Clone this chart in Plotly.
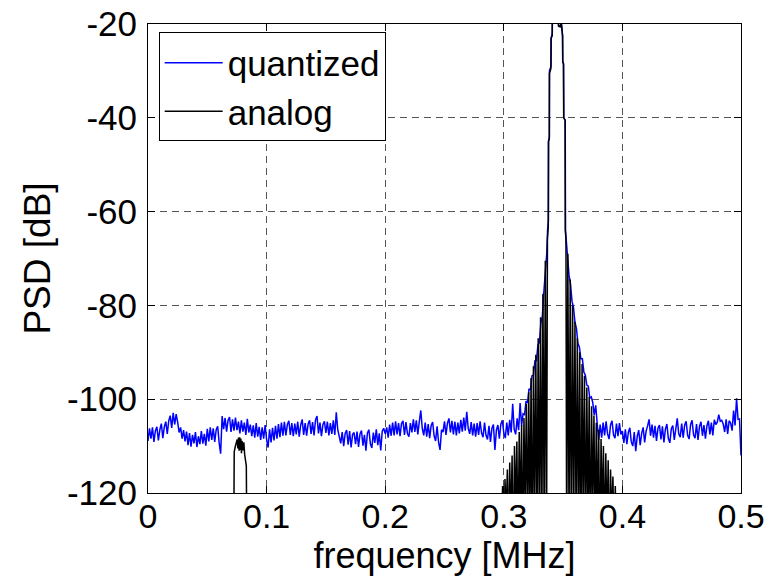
import plotly.graph_objects as go

# ---------------- data ----------------
# frequency grid of the quantized PSD noise floor (MHz)
Q_STEP = 0.00125
Q_LEFT_START = 0.0
Q_RIGHT_START = 0.35375

# quantized PSD [dB], 0 .. 0.335 MHz
quant_left_db = [
    -108.9, -106.2, -108.4, -106.0, -109.1, -106.7, -105.9, -108.8, -106.5, -105.2,
    -108.3, -105.9, -104.8, -107.4, -104.6, -103.5, -106.1, -102.9, -105.4, -103.2,
    -104.9, -107.1, -106.0, -108.4, -106.6, -109.0, -106.9, -109.8, -107.2, -110.1,
    -107.6, -109.4, -107.0, -110.2, -107.9, -109.6, -106.8, -109.5, -107.4, -109.9,
    -106.3, -109.0, -106.0, -108.7, -106.2, -109.1, -106.5, -105.8, -109.3, -111.6,
    -103.6, -106.4, -104.0, -106.9, -104.5, -103.8, -107.0, -104.3, -106.7, -103.9,
    -106.6, -104.8, -107.3, -104.5, -106.9, -105.0, -107.6, -104.2, -107.1, -105.4,
    -107.9, -105.6, -108.2, -105.1, -108.0, -105.9, -108.7, -106.0, -108.4, -105.5,
    -108.6, -110.3, -106.4, -109.2, -106.1, -108.8, -105.7, -108.4, -105.3, -108.1,
    -105.0, -107.8, -104.8, -107.7, -105.4, -104.6, -107.6, -105.1, -107.9, -105.2,
    -107.5, -104.8, -108.0, -105.5, -104.3, -107.6, -105.1, -107.8, -105.3, -104.5,
    -107.4, -104.9, -107.7, -104.4, -103.6, -107.3, -105.0, -107.9, -105.4, -104.7,
    -107.2, -104.8, -107.7, -105.1, -107.4, -104.5, -107.6, -102.8, -106.5, -107.9,
    -109.4, -107.0, -110.0, -107.3, -106.6, -109.7, -106.8, -110.3, -107.5, -107.1,
    -109.6, -106.9, -110.2, -107.4, -106.7, -109.9, -107.6, -111.0, -107.2, -106.5,
    -109.5, -110.4, -107.1, -109.3, -106.4, -109.8, -107.3, -110.9, -106.8, -106.2,
    -107.4, -106.0, -108.2, -105.4, -107.8, -105.0, -107.7, -104.7, -107.5, -105.1,
    -107.9, -105.2, -104.6, -107.6, -104.9, -107.3, -108.0, -105.1, -107.1, -104.3,
    -107.0, -104.5, -107.5, -104.8, -102.4, -106.2, -107.7, -105.0, -108.0, -105.3,
    -108.3, -105.6, -104.9, -107.8, -108.9, -105.8, -109.2, -110.8, -106.5, -107.0,
    -104.7, -107.6, -105.1, -104.1, -107.1, -104.6, -107.5, -104.8, -107.7, -105.0,
    -107.3, -104.4, -106.9, -103.9, -106.7, -102.7, -106.2, -107.4, -104.9, -107.7,
    -105.2, -108.0, -105.1, -107.6, -104.7, -107.2, -108.1, -105.0, -107.7, -108.6,
    -105.7, -109.1, -106.2, -105.4, -110.8, -106.6, -105.5, -108.4, -105.3, -104.5,
    -107.2, -108.3, -105.0, -107.7, -104.4, -107.1, -101.0, -106.4, -107.5, -104.1,
    -106.6, -100.8, -105.6, -103.1, -103.3, -100.4, -100.8, -97.8, -98.1, -95.0,
    -94.9, -91.8, -91.8, -88.5, -87.9, -83.8, -82.3, -77.2, -73.8,
]

# quantized PSD around the carrier (explicit frequencies)
quant_peak_f = [0.3362, 0.3369, 0.3376, 0.3377, 0.3384, 0.3385, 0.3398, 0.3399,
                0.3409, 0.3410, 0.3440, 0.3458, 0.3463, 0.3470, 0.3478, 0.3484,
                0.3488, 0.3489, 0.3496, 0.3497, 0.3504, 0.3506, 0.3518, 0.3520, 0.3528]
quant_peak_db = [-69.0, -64.0, -62.0, -45.0, -44.0, -30.0, -29.0, -23.0,
                 -22.0, -17.0, -16.0, -19.0, -20.6, -20.3, -20.7, -19.5,
                 -20.5, -22.0, -22.5, -28.0, -28.5, -40.0, -40.5, -64.0, -67.0]

# quantized PSD [dB], 0.35375 .. 0.5 MHz
quant_right_db = [
    -70.0, -73.6, -75.4, -79.1, -80.4, -83.6, -84.9, -88.1, -88.9, -91.4,
    -91.4, -94.2, -94.9, -97.0, -97.2, -99.8, -99.5,
    -100.7, -103.4, -101.3, -105.2, -108.7, -105.4, -108.2, -105.0, -107.7, -104.7,
    -107.4, -108.5, -105.5, -104.6, -107.6, -108.3, -105.2, -107.9, -105.1, -107.5,
    -106.8, -109.3, -106.4, -109.6, -107.1, -106.1, -109.1, -110.0, -107.0, -111.1,
    -107.9, -106.6, -109.8, -107.3, -106.0, -109.2, -106.8, -105.7, -104.3, -107.8,
    -105.4, -108.2, -105.7, -108.9, -106.2, -105.5, -108.6, -105.8, -109.2, -106.4,
    -105.3, -108.4, -109.3, -106.3, -105.6, -108.7, -106.0, -104.1, -107.4, -108.1,
    -105.2, -108.2, -105.5, -104.7, -107.7, -108.5, -105.4, -104.5, -107.6, -108.3,
    -105.3, -108.7, -105.8, -104.8, -107.8, -105.5, -108.4, -105.7, -104.6, -107.5,
    -105.0, -107.7, -104.4, -105.4, -104.9, -103.3, -104.7, -104.5, -105.3, -107.0,
    -104.3, -107.4, -104.6, -105.1, -106.7, -102.4, -105.6, -99.8, -104.3, -104.2,
    -112.0,
]

# analog PSD: small tone near 0.078 MHz (explicit frequencies)
analog_tone_f = [0.0722, 0.0725, 0.0727, 0.0735, 0.0745, 0.0752, 0.0758, 0.0763,
                 0.0768, 0.0773, 0.0778, 0.0783, 0.0788, 0.0793, 0.0800, 0.0808,
                 0.0815, 0.0822, 0.0829, 0.0831, 0.0834]
analog_tone_db = [-135.0, -121.0, -111.2, -110.2, -109.3, -108.6, -110.5, -108.2,
                  -111.0, -108.1, -110.8, -108.4, -111.5, -108.9, -110.9, -109.2,
                  -111.8, -113.4, -114.2, -122.0, -135.0]

# analog PSD: lower side-lobes, 0.296 .. 0.336 MHz in 0.001 MHz steps
ANALOG_STEP = 0.001
ANALOG_LEFT_START = 0.296
analog_left_db = [
    -132.0, -120.5, -128.0, -118.5, -136.0, -117.0, -125.0, -115.0, -131.0, -113.5,
    -127.0, -112.0, -138.0, -110.0, -124.0, -109.0, -133.0, -107.0, -126.0, -105.5,
    -135.0, -104.0, -123.0, -101.0, -130.0, -98.5, -127.0, -95.5, -137.0, -93.0,
    -125.0, -90.5, -132.0, -87.0, -128.0, -82.5, -134.0, -77.5, -126.0, -70.5,
    -135.0,
]

# analog PSD: main lobe (explicit frequencies)
analog_peak_f = [0.3368, 0.3375, 0.3377, 0.3384, 0.3385, 0.3397, 0.3399, 0.3408,
                 0.3410, 0.3440, 0.3458, 0.3463, 0.3470, 0.3478, 0.3484, 0.3487,
                 0.3489, 0.3495, 0.3497, 0.3503, 0.3505, 0.3517, 0.3519, 0.3524]
analog_peak_db = [-66.0, -63.0, -45.0, -44.5, -30.5, -29.5, -23.0, -22.5,
                  -17.0, -16.0, -19.0, -20.6, -20.3, -20.7, -19.5, -20.4,
                  -22.0, -22.5, -28.0, -28.5, -40.0, -40.5, -64.0, -66.0]

# analog PSD: upper side-lobes, 0.353 .. 0.397 MHz in 0.001 MHz steps
ANALOG_RIGHT_START = 0.353
analog_right_db = [
    -134.0, -69.0, -127.0, -74.5, -136.0, -80.0, -125.0, -83.5, -131.0, -87.0,
    -128.0, -90.0, -138.0, -92.5, -124.0, -95.0, -133.0, -97.5, -126.0, -99.5,
    -135.0, -101.5, -123.0, -103.5, -130.0, -105.0, -127.0, -106.5, -137.0, -108.5,
    -125.0, -110.0, -132.0, -111.5, -128.0, -113.0, -134.0, -115.0, -126.0, -116.5,
    -131.0, -118.5, -129.0, -120.5, -135.0,
]

x_tick_vals = [0, 0.1, 0.2, 0.3, 0.4, 0.5]
x_tick_text = ["0", "0.1", "0.2", "0.3", "0.4", "0.5"]
y_tick_vals = [-120, -100, -80, -60, -40, -20]
y_tick_text = ["-120", "-100", "-80", "-60", "-40", "-20"]

# ---------------- build series ----------------
quant_f = ([Q_LEFT_START + Q_STEP * i for i in range(len(quant_left_db))]
           + quant_peak_f
           + [Q_RIGHT_START + Q_STEP * i for i in range(len(quant_right_db))])
quant_db = quant_left_db + quant_peak_db + quant_right_db

analog_f = (analog_tone_f + [None]
            + [ANALOG_LEFT_START + ANALOG_STEP * i for i in range(len(analog_left_db))]
            + analog_peak_f
            + [ANALOG_RIGHT_START + ANALOG_STEP * i for i in range(len(analog_right_db))])
analog_db = (analog_tone_db + [None] + analog_left_db + analog_peak_db + analog_right_db)

FONT = "Liberation Sans, Arial, sans-serif"

fig = go.Figure()
fig.add_trace(go.Scatter(x=quant_f, y=quant_db, mode="lines", name="quantized",
                         line=dict(color="#0000ff", width=1.5)))
fig.add_trace(go.Scatter(x=analog_f, y=analog_db, mode="lines", name="analog",
                         line=dict(color="#000000", width=1.5), connectgaps=False))

axis_common = dict(
    showline=True, linecolor="black", linewidth=1, mirror="ticks",
    ticks="inside", ticklen=7, tickcolor="black", tickwidth=1,
    showgrid=True, gridcolor="#555555", gridwidth=1, griddash="7px,5px",
    zeroline=False,
)

fig.update_xaxes(range=[0, 0.5], tickvals=x_tick_vals, ticktext=x_tick_text,
                 tickfont=dict(family=FONT, size=34, color="black"),
                 title=dict(text="frequency [MHz]", font=dict(family=FONT, size=36, color="black"),
                            standoff=6),
                 ticklabelstandoff=-7, **axis_common)
fig.update_yaxes(range=[-120, -20], tickvals=y_tick_vals, ticktext=y_tick_text,
                 tickfont=dict(family=FONT, size=35, color="black"),
                 title=dict(text="PSD [dB]", font=dict(family=FONT, size=37, color="black"),
                            standoff=4),
                 ticklabelstandoff=3, **axis_common)

fig.update_layout(
    width=774, height=577,
    margin=dict(l=148, r=33, t=24, b=84, autoexpand=False),
    paper_bgcolor="white", plot_bgcolor="white",
    font=dict(family=FONT, color="black"),
    legend=dict(x=0.018, y=0.982, xanchor="left", yanchor="top",
                bgcolor="white", bordercolor="black", borderwidth=1,
                font=dict(family=FONT, size=35, color="black"),
                itemwidth=58, tracegroupgap=0),
    showlegend=True,
)

fig.write_html("out.html")
